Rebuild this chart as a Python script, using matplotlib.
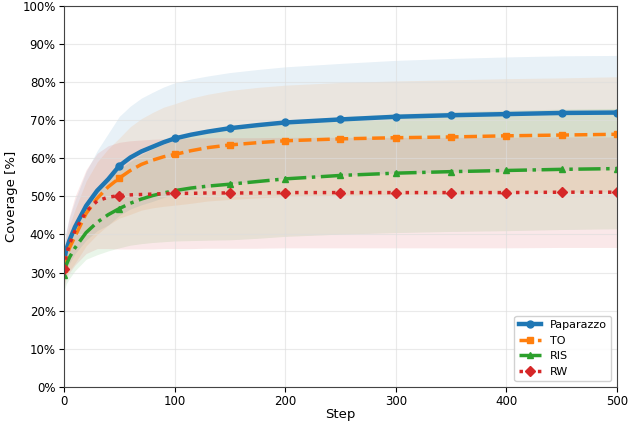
import numpy as np
import matplotlib
matplotlib.use("Agg")
import matplotlib.pyplot as plt
from matplotlib.ticker import PercentFormatter

# --- data ---
steps = [0, 2, 5, 10, 20, 30, 40, 50, 60, 70, 80, 90, 100, 115, 130, 150, 175, 200, 250, 300, 350, 400, 450, 500]

paparazzo = [33.0, 36.0, 38.5, 42.0, 47.5, 51.5, 54.5, 58.0, 60.2, 61.8, 63.0, 64.2, 65.2, 66.2, 67.0, 67.9, 68.7, 69.4, 70.2, 70.9, 71.3, 71.6, 71.9, 72.0]
to_cov = [31.0, 34.0, 36.5, 39.5, 45.5, 49.5, 52.5, 54.8, 56.8, 58.4, 59.5, 60.4, 61.0, 62.0, 62.8, 63.5, 64.1, 64.6, 65.1, 65.4, 65.6, 65.9, 66.1, 66.3]
ris = [29.5, 32.0, 34.0, 36.5, 40.5, 43.2, 45.2, 46.8, 48.2, 49.3, 50.2, 50.9, 51.5, 52.2, 52.7, 53.2, 53.9, 54.6, 55.5, 56.1, 56.5, 56.8, 57.1, 57.3]
rw = [31.0, 34.5, 37.5, 41.0, 46.0, 48.8, 49.8, 50.2, 50.4, 50.5, 50.6, 50.7, 50.8, 50.8, 50.9, 50.9, 50.9, 51.0, 51.0, 51.0, 51.0, 51.0, 51.1, 51.1]

paparazzo_std = [4.0, 5.0, 6.0, 7.0, 9.0, 10.5, 12.0, 13.0, 13.5, 14.0, 14.3, 14.5, 14.6, 14.6, 14.6, 14.6, 14.6, 14.6, 14.7, 14.8, 14.9, 15.0, 15.0, 15.0]
to_std = [4.0, 5.0, 6.0, 7.0, 8.5, 9.5, 10.0, 10.5, 11.5, 12.0, 12.5, 13.0, 13.3, 13.8, 14.0, 14.3, 14.5, 14.6, 14.8, 14.9, 15.0, 15.0, 15.0, 15.1]
ris_std = [4.5, 5.0, 5.5, 6.0, 7.0, 8.5, 9.5, 10.3, 11.0, 11.7, 12.3, 12.8, 13.2, 13.8, 14.2, 14.6, 14.9, 15.1, 15.4, 15.6, 15.7, 15.8, 15.8, 15.8]
rw_std = [5.0, 6.0, 7.5, 9.0, 11.0, 12.5, 13.5, 14.0, 14.2, 14.3, 14.4, 14.4, 14.5, 14.5, 14.5, 14.5, 14.5, 14.5, 14.5, 14.5, 14.5, 14.5, 14.5, 14.5]

labels = ["Paparazzo", "TO", "RIS", "RW"]
means = [paparazzo, to_cov, ris, rw]
stds = [paparazzo_std, to_std, ris_std, rw_std]

colors = ["#1f77b4", "#ff7f0e", "#2ca02c", "#d62728"]
styles = ["-", "--", "-.", ":"]
markers = ["o", "s", "^", "D"]
widths = [3.2, 2.5, 2.5, 2.5]

steps = np.array(steps)
mark_idx = [i for i, s in enumerate(steps) if s % 50 == 0]

fig, ax = plt.subplots(figsize=(6.36, 4.21), dpi=100)
fig.subplots_adjust(left=0.1006, right=0.970, top=0.986, bottom=0.081)

for lab, m, s, c, ls, mk, lw in zip(labels, means, stds, colors, styles, markers, widths):
    m = np.array(m)
    s = np.array(s)
    ax.fill_between(steps, m - s, m + s, color=c, alpha=0.1, linewidth=0)
    ax.plot(steps, m, color=c, linestyle=ls, linewidth=lw, marker=mk,
            markersize=5, markevery=mark_idx, label=lab)

ax.set_xlim(0, 500)
ax.set_ylim(0, 100)
ax.set_yticks(np.arange(0, 101, 10))
ax.yaxis.set_major_formatter(PercentFormatter(decimals=0))
ax.set_xlabel("Step", fontsize=9.5, labelpad=0)
ax.set_ylabel("Coverage [%]", fontsize=9.5, labelpad=3)
ax.tick_params(labelsize=8.5, pad=2.5)
ax.grid(True, color="#dddddd", alpha=0.6, linewidth=0.8)
for sp in ax.spines.values():
    sp.set_color("#444444")

ax.legend(loc="lower right", fontsize=8, framealpha=0.9)

fig.savefig("out.png", dpi=100)
